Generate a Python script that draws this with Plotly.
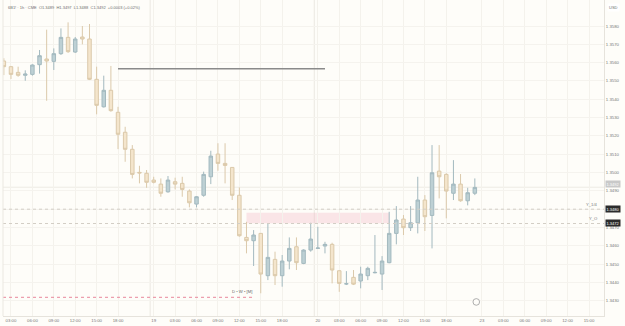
import plotly.graph_objects as go

# ---------------- data ----------------
bars = list(range(67))
opens = [1.35609, 1.35578, 1.35547, 1.35531, 1.35536, 1.35589, 1.35620, 1.35607, 1.35649, 1.35738,
         1.35658, 1.35740, 1.35729, 1.35509, 1.35359, 1.35449, 1.35329, 1.35220, 1.35127, 1.35001,
         1.34996, 1.34959, 1.34937, 1.34895, 1.34950, 1.34941, 1.34899, 1.34828, 1.34876, 1.34977,
         1.35101, 1.35050, 1.35028, 1.34876, 1.34646, 1.34628, 1.34668, 1.34437, 1.34526, 1.34437,
         1.34517, 1.34595, 1.34504, 1.34577, 1.34586, 1.34599, 1.34608, 1.34464, 1.34392, 1.34428,
         1.34408, 1.34437, 1.34453, 1.34446, 1.34508, 1.34668, 1.34746, 1.34699, 1.34726, 1.34850,
         1.34766, 1.35008, 1.34990, 1.34887, 1.34937, 1.34846, 1.34887]
highs = [1.35624, 1.35582, 1.35578, 1.35558, 1.35591, 1.35669, 1.35780, 1.35678, 1.35787, 1.35820,
         1.35740, 1.35800, 1.35811, 1.35578, 1.35529, 1.35582, 1.35359, 1.35250, 1.35150, 1.35037,
         1.35014, 1.34977, 1.34968, 1.34981, 1.34972, 1.34977, 1.34908, 1.34872, 1.35005, 1.35119,
         1.35160, 1.35160, 1.35030, 1.34919, 1.34731, 1.34686, 1.34670, 1.34723, 1.34568, 1.34550,
         1.34646, 1.34646, 1.34581, 1.34726, 1.34704, 1.34622, 1.34617, 1.34466, 1.34462, 1.34468,
         1.34486, 1.34486, 1.34659, 1.34544, 1.34786, 1.34817, 1.34768, 1.34817, 1.34977, 1.34877,
         1.35150, 1.35150, 1.34996, 1.35068, 1.34992, 1.34917, 1.34968]
lows = [1.35532, 1.35511, 1.35523, 1.35501, 1.35529, 1.35540, 1.35392, 1.35560, 1.35642, 1.35653,
        1.35653, 1.35700, 1.35505, 1.35318, 1.35355, 1.35332, 1.35128, 1.35059, 1.34968, 1.34941,
        1.34917, 1.34941, 1.34868, 1.34890, 1.34908, 1.34868, 1.34810, 1.34810, 1.34868, 1.34937,
        1.35010, 1.34941, 1.34850, 1.34650, 1.34559, 1.34490, 1.34341, 1.34413, 1.34386, 1.34377,
        1.34472, 1.34468, 1.34500, 1.34568, 1.34583, 1.34559, 1.34395, 1.34349, 1.34386, 1.34386,
        1.34368, 1.34413, 1.34450, 1.34359, 1.34505, 1.34608, 1.34659, 1.34681, 1.34668, 1.34681,
        1.34586, 1.34859, 1.34750, 1.34850, 1.34841, 1.34821, 1.34877]
closes = [1.35578, 1.35536, 1.35531, 1.35538, 1.35587, 1.35638, 1.35609, 1.35649, 1.35738, 1.35660,
          1.35729, 1.35729, 1.35509, 1.35367, 1.35449, 1.35338, 1.35209, 1.35127, 1.34990, 1.34998,
          1.34947, 1.34947, 1.34887, 1.34959, 1.34937, 1.34908, 1.34835, 1.34868, 1.34990, 1.35090,
          1.35050, 1.35039, 1.34876, 1.34655, 1.34628, 1.34659, 1.34446, 1.34537, 1.34437, 1.34517,
          1.34586, 1.34508, 1.34577, 1.34637, 1.34588, 1.34608, 1.34468, 1.34395, 1.34393, 1.34391,
          1.34446, 1.34477, 1.34455, 1.34517, 1.34668, 1.34741, 1.34699, 1.34726, 1.34850, 1.34759,
          1.34999, 1.34977, 1.34899, 1.34937, 1.34846, 1.34890, 1.34919]

tick_bars = [1, 4, 7, 10, 13, 16, 21, 24, 27, 30, 33, 36, 39, 44, 47, 50, 53, 56, 59, 62,
             67, 70, 73, 76, 79, 82]
tick_text = ["03:00", "06:00", "09:00", "12:00", "15:00", "18:00", "19", "03:00", "06:00", "09:00",
             "12:00", "15:00", "18:00", "20", "03:00", "06:00", "09:00", "12:00", "15:00", "18:00",
             "23", "03:00", "06:00", "09:00", "12:00", "15:00"]
price_ticks = [1.3430, 1.3440, 1.3450, 1.3460, 1.3470, 1.3480, 1.3490, 1.3500, 1.3510, 1.3520,
               1.3530, 1.3540, 1.3550, 1.3560, 1.3570, 1.3580]
session_breaks = [20.5, 43.5]

hline_level = 1.35567
hline_bars = [16, 45]
zone_top, zone_bottom = 1.34781, 1.34723
zone_bars = [34, 54]
level_y14 = 1.3480
level_yo = 1.34722
level_dwm = 1.34319
dwm_end_bar = 35
last_price = 1.3492

title_text = "6B1! · 1h · CME  O1.3489  H1.3497  L1.3488  C1.3492  +0.0003 (+0.02%)"

# ---------------- figure ----------------
BG = "#fefdf9"
FONT = "Liberation Sans"
x_range = [-0.12, 84.1]
y_range = [1.34217, 1.35942]

fig = go.Figure()

fig.add_trace(go.Candlestick(
    x=bars, open=opens, high=highs, low=lows, close=closes,
    increasing=dict(fillcolor="#bdd0d4", line=dict(color="#a3b9bf", width=1)),
    decreasing=dict(fillcolor="#f4e5cc", line=dict(color="#dbc9aa", width=1)),
    whiskerwidth=0, showlegend=False, hoverinfo="skip",
))

shapes = []
for b in session_breaks:
    shapes.append(dict(type="line", xref="x", yref="paper", x0=b, x1=b, y0=0, y1=1,
                       line=dict(color="#ebe8e1", width=1), layer="below"))
shapes.append(dict(type="line", xref="paper", yref="y", x0=0, x1=1, y0=last_price, y1=last_price,
                   line=dict(color="#eeebe4", width=1), layer="below"))
shapes.append(dict(type="rect", xref="x", yref="y", x0=zone_bars[0], x1=zone_bars[1],
                   y0=zone_bottom, y1=zone_top, fillcolor="rgba(242,170,185,0.28)",
                   line=dict(width=0), layer="below"))
for lv in [level_y14, level_yo]:
    shapes.append(dict(type="line", xref="paper", yref="y", x0=0, x1=1, y0=lv, y1=lv,
                       line=dict(color="#d3cec5", width=1, dash="dot")))
shapes.append(dict(type="line", xref="x", yref="y", x0=x_range[0], x1=dwm_end_bar,
                   y0=level_dwm, y1=level_dwm, line=dict(color="#e8879c", width=1, dash="dot")))
shapes.append(dict(type="line", xref="x", yref="y", x0=hline_bars[0], x1=hline_bars[1],
                   y0=hline_level, y1=hline_level, line=dict(color="#8a8a8a", width=1.6)))
shapes.append(dict(type="line", xref="paper", yref="paper", x0=0, x1=0, y0=0, y1=1,
                   line=dict(color="#ebe8e1", width=1)))
shapes.append(dict(type="circle", xref="paper", yref="paper", x0=0.782, x1=0.793, y0=0.034, y1=0.055,
                   line=dict(color="#9a9a9a", width=0.8), fillcolor=BG))

annotations = []
annotations.append(dict(text=title_text, xref="paper", yref="paper", x=0, y=1, xanchor="left",
                        yanchor="top", xshift=3, yshift=-3, showarrow=False,
                        font=dict(family=FONT, size=4.0, color="#6e6e6e")))
annotations.append(dict(text="USD", xref="paper", yref="paper", x=1, y=1, xanchor="left",
                        yanchor="top", xshift=3, yshift=-3, showarrow=False, bgcolor="#ffffff",
                        borderpad=1, font=dict(family=FONT, size=4, color="#6e6e6e")))
annotations.append(dict(text="Y_1/4", xref="paper", yref="y", x=0.993, y=level_y14, xanchor="right",
                        yanchor="bottom", showarrow=False,
                        font=dict(family=FONT, size=4.2, color="#777777")))
annotations.append(dict(text="Y_O", xref="paper", yref="y", x=0.993, y=level_yo, xanchor="right",
                        yanchor="bottom", showarrow=False,
                        font=dict(family=FONT, size=4.2, color="#777777")))
annotations.append(dict(text="D • W • [M]", xref="x", yref="y", x=dwm_end_bar, y=level_dwm,
                        xanchor="right", yanchor="bottom", yshift=1, showarrow=False,
                        font=dict(family=FONT, size=4.2, color="#666666")))
for lv, bg, fc, txt, ys in [(level_y14, "#2b2b2b", "#ffffff", "1.3480", 0),
                            (level_yo, "#2b2b2b", "#ffffff", "1.3472", 0),
                            (last_price, "#c9c9c9", "#ffffff", "1.3492", 3)]:
    annotations.append(dict(text=txt, xref="paper", yref="y", x=1, y=lv, xanchor="left",
                            yanchor="middle", xshift=1, yshift=ys, showarrow=False, bgcolor=bg,
                            borderpad=0.5, font=dict(family=FONT, size=4.0, color=fc)))

fig.update_layout(
    width=625, height=326,
    margin=dict(l=3, r=21, t=0, b=10),
    paper_bgcolor=BG, plot_bgcolor=BG,
    shapes=shapes, annotations=annotations,
    font=dict(family=FONT, size=4.3, color="#777777"),
    xaxis=dict(range=x_range, tickvals=tick_bars, ticktext=tick_text, showgrid=True,
               gridcolor="#f4f2ec", gridwidth=1, zeroline=False, showline=True,
               linecolor="#e6e3dc", ticks="", rangeslider=dict(visible=False),
               tickfont=dict(family=FONT, size=4.3, color="#777777")),
    yaxis=dict(range=y_range, side="right", tickvals=price_ticks,
               ticktext=["%.4f" % v for v in price_ticks], showgrid=True,
               gridcolor="#f5f3ee", gridwidth=1, zeroline=False, showline=True,
               linecolor="#e6e3dc", ticks="",
               tickfont=dict(family=FONT, size=4.3, color="#777777")),
    showlegend=False,
)

fig.write_html("out.html")
